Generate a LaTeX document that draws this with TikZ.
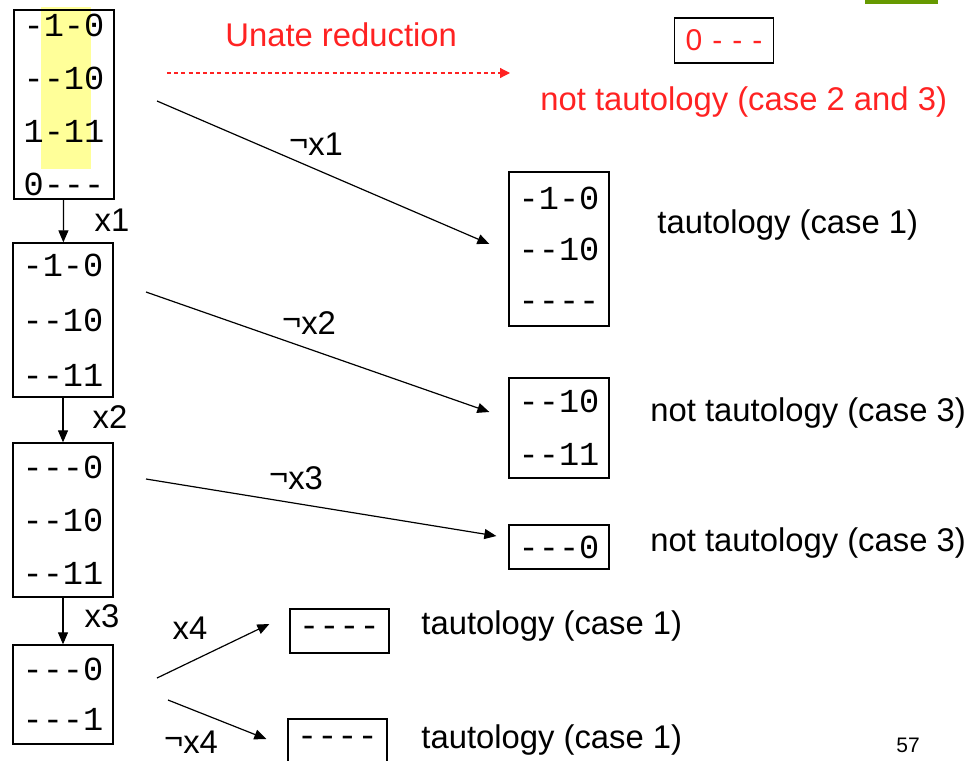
\documentclass[tikz,border=0pt]{standalone}
\usepackage{fontspec}
\setmainfont{Liberation Sans}
\setmonofont{Liberation Mono}
\usetikzlibrary{arrows.meta}

\definecolor{unatered}{RGB}{255,34,34}
\definecolor{colmark}{RGB}{255,255,153}
\definecolor{slidegreen}{RGB}{102,153,0}

\newcommand{\notlit}{\raisebox{0.12em}{¬}}

\tikzset{
  cover/.style={draw, line width=0.65pt, minimum width=50pt, inner sep=0pt, align=center,
    font=\ttfamily\fontsize{16.8}{26.5}\selectfont},
  lbl/.style={font=\fontsize{16.4}{19}\selectfont, inner sep=0pt},
  branch/.style={-{Triangle[length=6pt,width=5pt]}, line width=0.6pt},
}

\begin{document}
\begin{tikzpicture}[x=0.5pt,y=-0.5pt]
\useasboundingbox (0,0) rectangle (968,760);
\fill[slidegreen] (865,0) rectangle (938,4);
% unate columns
\fill[colmark] (41,7) rectangle (91,169);

% cofactor chain on the left
\node[cover, minimum height=94.5pt] (c0) at (64,104.5) {-1-0\\--10\\1-11\\0---};
\node[cover, minimum height=77pt, font=\ttfamily\fontsize{16.8}{27.5}\selectfont] (c1) at (63,320) {-1-0\\--10\\--11};
\node[cover, minimum height=77pt] (c2) at (63,520) {---0\\--10\\--11};
\node[cover, minimum height=49.5pt, font=\ttfamily\fontsize{16.8}{25}\selectfont] (c3) at (63,694.5) {---0\\---1};

\draw[branch] (c0) -- (c1);
\draw[branch] (c1) -- (c2);
\draw[branch] (c2) -- (c3);
\node[lbl] (x1) at (112,220) {x1};
\node[lbl] (x2) at (110,417) {x2};
\node[lbl] (x3) at (102,616) {x3};

% unate reduction
\node[lbl, anchor=west, text=unatered] (unate) at (225,35) {Unate reduction};
\node[draw, line width=0.65pt, minimum width=49.5pt, minimum height=22.5pt, inner sep=0pt,
  text=unatered, font=\fontsize{15}{17}\selectfont] (r0) at (724,40.5)
  {0\hspace{5pt}-\hspace{5pt}-\hspace{5pt}-};
\node[lbl, anchor=west, text=unatered] (r0txt) at (540,102) {not tautology (case 2 and 3)};
\coordinate (u0) at (167,73);
\coordinate (u1) at (510,73);
\draw[unatered, dashed, dash pattern=on 2pt off 1.6pt, line width=0.6pt,
  -{Triangle[length=5pt,width=5pt]}] (u0) -- (u1);

% negative cofactors
\node[cover, minimum height=77pt, font=\ttfamily\fontsize{16.8}{25.5}\selectfont] (n1) at (559,249) {-1-0\\--10\\----};
\node[cover, minimum height=50pt] (n2) at (559,428) {--10\\--11};
\node[cover, minimum height=22pt] (n3) at (559,547) {---0};
\node[cover, minimum width=49.5pt, minimum height=22pt] (p4) at (339.5,631) {----};
\node[cover, minimum width=49.5pt, minimum height=22pt] (n4) at (337.5,741) {----};

\node[lbl, anchor=west] (n1txt) at (657,225) {tautology (case 1)};
\node[lbl, anchor=west] (n2txt) at (650,413) {not tautology (case 3)};
\node[lbl, anchor=west] (n3txt) at (650,543) {not tautology (case 3)};
\node[lbl, anchor=west] (p4txt) at (421,626) {tautology (case 1)};
\node[lbl, anchor=west] (n4txt) at (421,740) {tautology (case 1)};

\coordinate (s1) at (157,101);
\coordinate (s2) at (146,292);
\coordinate (s3) at (146,479);
\coordinate (s4) at (157,678);
\coordinate (s5) at (168,700);
\draw[branch] (s1) -- ([shift={(-19,-5)}]n1.west);
\draw[branch] (s2) -- ([shift={(-19,-16)}]n2.west);
\draw[branch] (s3) -- ([shift={(-12,-11)}]n3.west);
\draw[branch] (s4) -- ([shift={(-20,-7)}]p4.west);
\draw[branch] (s5) -- ([shift={(-21,-2)}]n4.west);

\node[lbl] (nx1) at (316,144) {\notlit x1};
\node[lbl] (nx2) at (309,323) {\notlit x2};
\node[lbl] (nx3) at (296,478) {\notlit x3};
\node[lbl] (x4) at (190,628) {x4};
\node[lbl] (nx4) at (191,742) {\notlit x4};

\node[font=\fontsize{10.5}{12}\selectfont] (page) at (908,745) {57};
\end{tikzpicture}
\end{document}
